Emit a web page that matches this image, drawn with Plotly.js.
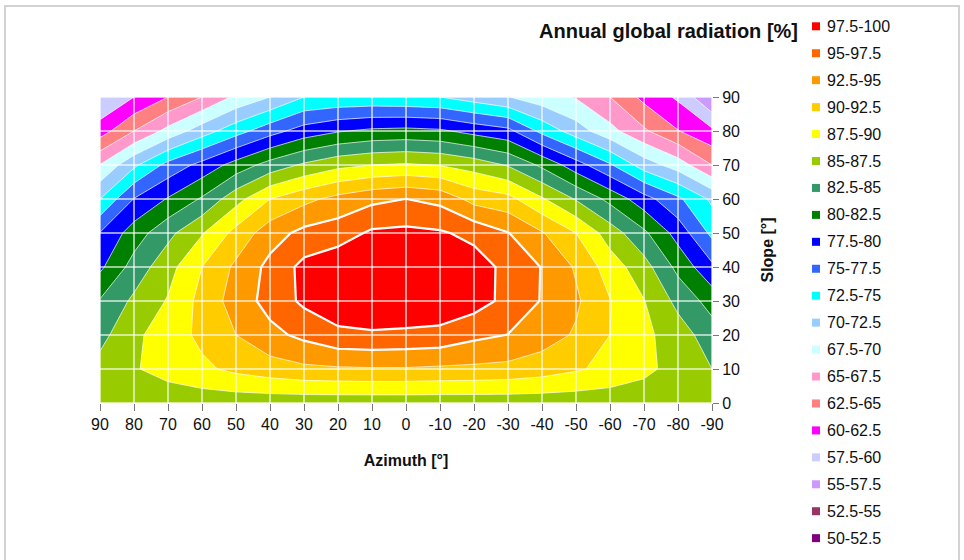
<!DOCTYPE html>
<html><head><meta charset="utf-8">
<script src="https://cdn.plot.ly/plotly-3.0.1.min.js"></script>
<style>
html,body{margin:0;padding:0;background:#fff;}
#wrap{position:relative;width:964px;height:560px;overflow:hidden;}
#chart{width:964px;height:560px;}
#frame{position:absolute;left:4px;top:5px;width:952px;height:600px;border:2px solid #d2d2d2;pointer-events:none;}
</style></head><body>
<div id="wrap"><div id="chart"></div><div id="frame"></div></div>
<script>
// ---- data ----
const azimuth = [90, 80, 70, 60, 50, 40, 30, 20, 10, 0, -10, -20, -30, -40, -50, -60, -70, -80, -90];
const slope = [0, 10, 20, 30, 40, 50, 60, 70, 80, 90];
const azimuthTickText = ['90','80','70','60','50','40','30','20','10','0','-10','-20','-30','-40','-50','-60','-70','-80','-90'];
const slopeTicks = [0, 10, 20, 30, 40, 50, 60, 70, 80, 90];

// annual global radiation [%], one array per slope row (azimuth 90 -> -90)
const radSlope0  = [86.0, 86.0, 86.0, 86.0, 86.0, 86.0, 86.0, 86.0, 86.0, 86.0, 86.0, 86.0, 86.0, 86.0, 86.0, 86.0, 86.0, 86.0, 86.0];
const radSlope10 = [85.9, 87.3, 88.4, 89.5, 90.6, 91.4, 92.0, 92.2, 92.3, 92.3, 92.1, 92.0, 91.8, 91.2, 90.3, 89.3, 88.1, 86.6, 85.0];
const radSlope20 = [84.2, 87.0, 88.7, 90.6, 92.5, 94.3, 95.6, 96.9, 97.1, 96.9, 96.7, 95.6, 94.95, 93.7, 92.2, 90.0, 88.1, 86.2, 83.7];
const radSlope30 = [82.7, 85.5, 87.7, 90.8, 93.6, 95.9, 98.0, 99.2, 99.9, 99.9, 99.5, 98.6, 96.8, 94.85, 92.9, 90.1, 87.6, 84.3, 81.5];
const radSlope40 = [79.5, 83.5, 86.6, 90.0, 93.0, 95.7, 98.2, 99.3, 99.9, 99.8, 99.7, 98.7, 96.8, 94.9, 92.2, 88.8, 86.0, 81.8, 78.0];
const radSlope50 = [77.6, 81.2, 84.3, 87.3, 90.8, 93.9, 95.7, 96.3, 97.9, 98.1, 97.8, 96.8, 95.1, 92.7, 90.0, 86.3, 83.0, 79.0, 74.4];
const radSlope60 = [72.5, 77.6, 80.2, 82.8, 86.6, 90.0, 91.8, 93.3, 94.4, 95.02, 94.3, 91.6, 90.8, 87.8, 84.8, 81.8, 78.5, 75.5, 72.0];
const radSlope70 = [67.6, 72.0, 75.8, 78.3, 81.0, 83.5, 85.4, 86.8, 87.5, 87.8, 87.4, 86.4, 84.8, 82.0, 78.6, 75.3, 71.3, 68.8, 65.0];
const radSlope80 = [61.3, 65.0, 68.3, 71.3, 74.0, 76.5, 78.6, 79.8, 80.5, 80.7, 80.4, 79.2, 78.2, 74.3, 71.2, 68.3, 65.4, 62.6, 60.5];
const radSlope90 = [57.4, 60.0, 62.5, 65.0, 68.0, 70.0, 72.5, 72.9, 73.0, 72.8, 72.5, 71.3, 70.1, 68.5, 67.3, 65.0, 61.8, 59.6, 55.0];

// contour bands (lowest first)
const bandLabels = ['50-52.5','52.5-55','55-57.5','57.5-60','60-62.5','62.5-65','65-67.5','67.5-70','70-72.5','72.5-75',
                    '75-77.5','77.5-80','80-82.5','82.5-85','85-87.5','87.5-90','90-92.5','92.5-95','95-97.5','97.5-100'];
const bandColors = ['#800080','#993366','#CC99FF','#CCCCFF','#FF00FF','#FF8080','#FF99CC','#CCFFFF','#99CCFF','#00FFFF',
                    '#3366FF','#0000FF','#008000','#339966','#99CC00','#FFFF00','#FFCC00','#FF9900','#FF6600','#FF0000'];
const levelStart = 50, levelStep = 2.5;

// ---- build ----
const z = [radSlope0, radSlope10, radSlope20, radSlope30, radSlope40, radSlope50, radSlope60, radSlope70, radSlope80, radSlope90];
const nB = bandColors.length;
const colorscale = [[0, bandColors[0]]];
for (let k = 0; k < nB; k++) colorscale.push([(k + 1) / nB, bandColors[k]]);

const FONT = 'Liberation Sans, Arial, Helvetica, sans-serif';
const W = 964, H = 560;
const L = 100, R = 712, T = 97, B = 403;
const px2x = p => (p - L) / (R - L);
const py2y = p => (B - p) / (B - T);

const traces = [
  {
    type: 'contour', x: azimuth, y: slope, z: z,
    autocontour: false,
    contours: {start: levelStart, end: levelStart + levelStep * (nB - 1), size: levelStep, coloring: 'fill', showlines: true},
    colorscale: colorscale, showscale: false,
    line: {color: 'rgba(255,255,255,0.7)', width: 1, smoothing: 0},
    hoverinfo: 'x+y+z'
  },
  {
    type: 'contour', x: azimuth, y: slope, z: z,
    autocontour: false,
    contours: {start: 95, end: 97.5, size: levelStep, coloring: 'none', showlines: true},
    line: {color: '#ffffff', width: 2.2, smoothing: 0},
    showscale: false, hoverinfo: 'skip'
  }
];

const shapes = [];
azimuth.forEach(a => shapes.push({type: 'line', xref: 'x', yref: 'paper', x0: a, x1: a, y0: 0, y1: 1,
  line: {color: 'rgba(255,255,255,0.8)', width: 1.5}, layer: 'above'}));
slopeTicks.forEach(s => shapes.push({type: 'line', xref: 'paper', yref: 'y', x0: 0, x1: 1, y0: s, y1: s,
  line: {color: 'rgba(255,255,255,0.8)', width: 1.5}, layer: 'above'}));

const annotations = [];
const legTop = 26.3, legStep = 26.94;
for (let k = nB - 1; k >= 0; k--) {
  const r = nB - 1 - k;
  const cy = legTop + r * legStep;
  shapes.push({type: 'rect', xref: 'paper', yref: 'paper',
    x0: px2x(812), x1: px2x(820), y0: py2y(cy + 4), y1: py2y(cy - 4),
    fillcolor: bandColors[k], line: {width: 0}});
  annotations.push({xref: 'paper', yref: 'paper', x: px2x(825), y: py2y(cy), xanchor: 'left', yanchor: 'middle',
    text: bandLabels[k], showarrow: false, font: {family: FONT, size: 16, color: '#111'}});
}

const layout = {
  width: W, height: H,
  margin: {l: L, r: W - R, t: T, b: H - B, pad: 0},
  paper_bgcolor: '#fff', plot_bgcolor: '#fff',
  showlegend: false,
  title: {text: 'Annual global radiation [%]', xref: 'container', x: 798 / W, xanchor: 'right',
          yref: 'container', y: 1 - 31 / H, yanchor: 'middle',
          font: {family: FONT, size: 20, color: '#111', weight: 'bold'}},
  xaxis: {
    range: [90, -90], tickmode: 'array', tickvals: azimuth, ticktext: azimuthTickText,
    showgrid: false, zeroline: false, showline: false,
    ticks: 'outside', ticklen: 7, tickwidth: 1, tickcolor: '#777',
    tickfont: {family: FONT, size: 16, color: '#111'},
    title: {text: 'Azimuth [°]', standoff: 22, font: {family: FONT, size: 16, color: '#111', weight: 'bold'}},
    fixedrange: true
  },
  yaxis: {
    range: [0, 90], side: 'right', tickmode: 'array', tickvals: slopeTicks,
    showgrid: false, zeroline: false, showline: false,
    ticks: 'outside', ticklen: 6, tickwidth: 1, tickcolor: '#777',
    tickfont: {family: FONT, size: 16, color: '#111'},
    title: {text: 'Slope [°]', standoff: 22, font: {family: FONT, size: 16, color: '#111', weight: 'bold'}},
    fixedrange: true
  },
  shapes: shapes,
  annotations: annotations
};

Plotly.newPlot('chart', traces, layout, {displayModeBar: false, staticPlot: true});
</script>
</body></html>
